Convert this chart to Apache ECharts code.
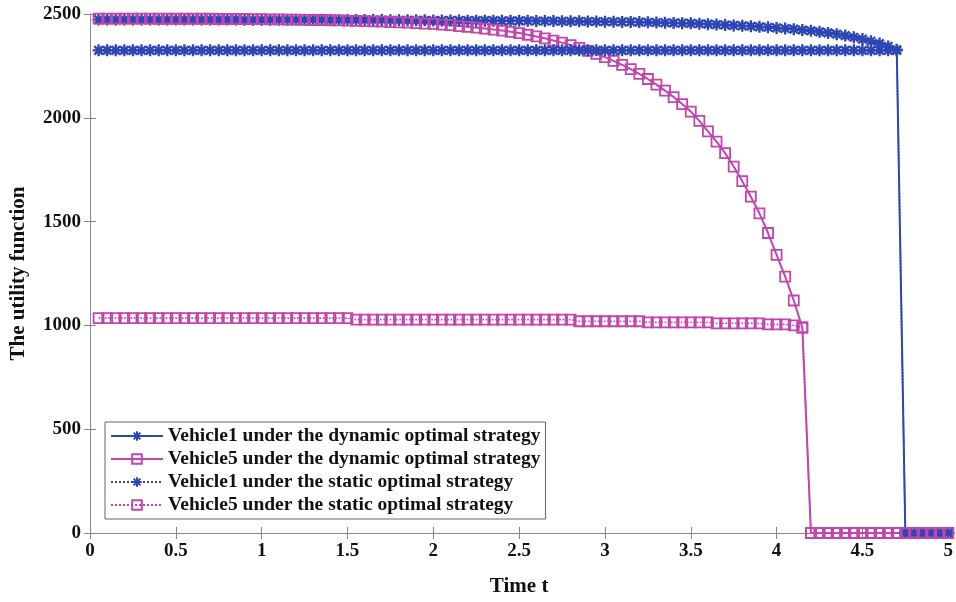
<!DOCTYPE html>
<html>
<head>
<meta charset="utf-8">
<script src="https://cdn.jsdelivr.net/npm/echarts@6/dist/echarts.min.js"></script>
<style>
  html, body { margin: 0; padding: 0; background: #fff; }
  #chart { width: 956px; height: 602px; }
</style>
</head>
<body>
<div id="chart"></div>
<script>
// time samples (step 0.05)
const time = [
  0.05, 0.1, 0.15, 0.2, 0.25, 0.3, 0.35, 0.4, 0.45, 0.5,
  0.55, 0.6, 0.65, 0.7, 0.75, 0.8, 0.85, 0.9, 0.95, 1,
  1.05, 1.1, 1.15, 1.2, 1.25, 1.3, 1.35, 1.4, 1.45, 1.5,
  1.55, 1.6, 1.65, 1.7, 1.75, 1.8, 1.85, 1.9, 1.95, 2,
  2.05, 2.1, 2.15, 2.2, 2.25, 2.3, 2.35, 2.4, 2.45, 2.5,
  2.55, 2.6, 2.65, 2.7, 2.75, 2.8, 2.85, 2.9, 2.95, 3,
  3.05, 3.1, 3.15, 3.2, 3.25, 3.3, 3.35, 3.4, 3.45, 3.5,
  3.55, 3.6, 3.65, 3.7, 3.75, 3.8, 3.85, 3.9, 3.95, 4,
  4.05, 4.1, 4.15, 4.2, 4.25, 4.3, 4.35, 4.4, 4.45, 4.5,
  4.55, 4.6, 4.65, 4.7, 4.75, 4.8, 4.85, 4.9, 4.95, 5
];

const v1Dynamic = [
  2473, 2473, 2473, 2473, 2473, 2473, 2473, 2473, 2473, 2473,
  2473, 2473, 2473, 2473, 2473, 2473, 2473, 2472, 2472, 2472,
  2472, 2472, 2472, 2472, 2472, 2472, 2472, 2471, 2471, 2471,
  2471, 2471, 2471, 2471, 2470, 2470, 2470, 2470, 2470, 2469,
  2469, 2469, 2469, 2468, 2468, 2468, 2468, 2467, 2467, 2467,
  2467, 2466, 2466, 2466, 2465, 2465, 2465, 2464, 2464, 2463,
  2463, 2462, 2462, 2461, 2460, 2459, 2458, 2457, 2456, 2455,
  2453, 2451, 2449, 2447, 2445, 2443, 2441, 2438, 2436, 2433,
  2430, 2427, 2423, 2419, 2414, 2409, 2403, 2396, 2388, 2379,
  2369, 2358, 2344, 2328, 0, 0, 0, 0, 0, 0
];

const v5Dynamic = [
  2478, 2478, 2478, 2478, 2478, 2478, 2478, 2477, 2477, 2477,
  2477, 2477, 2477, 2477, 2476, 2476, 2476, 2476, 2475, 2475,
  2474, 2474, 2473, 2473, 2472, 2471, 2471, 2470, 2469, 2468,
  2467, 2466, 2464, 2463, 2461, 2460, 2458, 2456, 2454, 2452,
  2449, 2446, 2442, 2438, 2434, 2430, 2425, 2420, 2414, 2408,
  2400, 2392, 2383, 2372, 2362, 2350, 2337, 2322, 2308, 2292,
  2274, 2255, 2234, 2212, 2187, 2160, 2131, 2100, 2066, 2030,
  1985, 1935, 1885, 1830, 1765, 1695, 1620, 1540, 1445, 1340,
  1235, 1120, 990, 0, 0, 0, 0, 0, 0, 0,
  0, 0, 0, 0, 0, 0, 0, 0, 0, 0
];

const v1Static = [
  2325, 2325, 2325, 2325, 2325, 2325, 2325, 2325, 2325, 2325,
  2325, 2325, 2325, 2325, 2325, 2325, 2325, 2325, 2325, 2325,
  2325, 2325, 2325, 2325, 2325, 2325, 2325, 2325, 2325, 2325,
  2325, 2325, 2325, 2325, 2325, 2325, 2325, 2325, 2325, 2325,
  2325, 2325, 2325, 2325, 2325, 2325, 2325, 2325, 2325, 2325,
  2325, 2325, 2325, 2325, 2325, 2325, 2325, 2325, 2325, 2325,
  2325, 2325, 2325, 2325, 2325, 2325, 2325, 2325, 2325, 2325,
  2325, 2325, 2325, 2325, 2325, 2325, 2325, 2325, 2325, 2325,
  2325, 2325, 2325, 2325, 2325, 2325, 2325, 2325, 2325, 2325,
  2325, 2325, 2325, 2325, 0, 0, 0, 0, 0, 0
];

const v5Static = [
  1035, 1035, 1035, 1035, 1035, 1035, 1035, 1035, 1035, 1035,
  1035, 1035, 1035, 1035, 1035, 1035, 1035, 1035, 1035, 1035,
  1035, 1035, 1035, 1035, 1035, 1035, 1035, 1035, 1035, 1035,
  1028, 1028, 1028, 1028, 1028, 1028, 1028, 1028, 1028, 1028,
  1028, 1028, 1028, 1028, 1028, 1028, 1028, 1028, 1028, 1028,
  1028, 1028, 1028, 1028, 1028, 1028, 1020, 1020, 1020, 1020,
  1020, 1020, 1020, 1020, 1015, 1015, 1015, 1015, 1015, 1015,
  1015, 1015, 1010, 1010, 1010, 1010, 1010, 1010, 1005, 1005,
  1005, 1000, 990, 0, 0, 0, 0, 0, 0, 0,
  0, 0, 0, 0, 0, 0, 0, 0, 0, 0
];

const seriesNames = [
  "Vehicle1 under the dynamic optimal strategy",
  "Vehicle5 under the dynamic optimal strategy",
  "Vehicle1 under the static optimal strategy",
  "Vehicle5 under the static optimal strategy"
];

const blue = "#2d46b6";
const pink = "#c444ad";
const font = "Liberation Serif";
const star = "path://M5,0L5,10M0,5L10,5M1.5,1.5L8.5,8.5M8.5,1.5L1.5,8.5";
const square = "path://M0,0L10,0L10,10L0,10Z";

function pairs(vals) {
  return time.map((t, i) => [t, vals[i]]);
}

function makeSeries(name, vals, color, symbol, size, dotted) {
  return {
    name: name,
    type: "line",
    data: pairs(vals),
    symbol: symbol,
    symbolSize: size,
    showAllSymbol: true,
    lineStyle: { color: color, width: dotted ? 1.6 : 2, type: dotted ? "dotted" : "solid" },
    itemStyle: { color: "rgba(0,0,0,0)", borderColor: color, borderWidth: symbol === star ? 2.4 : 1.8 },
    emphasis: { disabled: true }
  };
}

var myChart = echarts.init(document.getElementById("chart"));

var labelStyle = { fontFamily: font, fontWeight: "bold", fontSize: 19, color: "#111" };
var nameStyle = { fontFamily: font, fontWeight: "bold", fontSize: 21, color: "#111" };

var option = {
  animation: false,
  backgroundColor: "#fff",
  grid: { left: 90, right: 3, top: 14, bottom: 66 },
  legend: {
    orient: "vertical",
    left: 105,
    top: 422,
    padding: [4, 5],
    itemGap: 3,
    itemWidth: 52,
    itemHeight: 12,
    borderColor: "#666",
    borderWidth: 1,
    backgroundColor: "#fff",
    textStyle: { fontFamily: font, fontWeight: "bold", fontSize: 19.5, lineHeight: 20, color: "#111" },
    data: seriesNames
  },
  xAxis: [
    {
      type: "value",
      min: 0,
      max: 5,
      interval: 0.5,
      name: "Time t",
      nameLocation: "middle",
      nameGap: 43,
      nameTextStyle: nameStyle,
      axisLine: { lineStyle: { color: "#888" } },
      axisTick: { inside: true, length: 6, lineStyle: { color: "#888" } },
      axisLabel: Object.assign({ margin: 9, formatter: v => String(v) }, labelStyle),
      splitLine: { show: false }
    },
    {
      type: "value",
      position: "top",
      min: 0,
      max: 5,
      interval: 0.5,
      axisLine: { lineStyle: { color: "#888" } },
      axisTick: { inside: true, length: 6, lineStyle: { color: "#888" } },
      axisLabel: { show: false },
      splitLine: { show: false }
    }
  ],
  yAxis: [
    {
      type: "value",
      min: 0,
      max: 2500,
      interval: 500,
      name: "The utility function",
      nameLocation: "middle",
      nameGap: 61,
      nameTextStyle: nameStyle,
      axisLine: { show: true, lineStyle: { color: "#888" } },
      axisTick: { show: true, inside: true, length: 6, lineStyle: { color: "#888" } },
      axisLabel: Object.assign({ margin: 9, formatter: v => String(v) }, labelStyle),
      splitLine: { show: false }
    },
    {
      type: "value",
      position: "right",
      min: 0,
      max: 2500,
      interval: 500,
      axisLine: { show: true, lineStyle: { color: "#888" } },
      axisTick: { show: true, inside: true, length: 6, lineStyle: { color: "#888" } },
      axisLabel: { show: false },
      splitLine: { show: false }
    }
  ],
  series: [
    makeSeries(seriesNames[0], v1Dynamic, blue, star, 12, false),
    makeSeries(seriesNames[1], v5Dynamic, pink, square, 10, false),
    makeSeries(seriesNames[2], v1Static, blue, star, 12, true),
    makeSeries(seriesNames[3], v5Static, pink, square, 10, true)
  ]
};

myChart.setOption(option);
</script>
</body>
</html>
